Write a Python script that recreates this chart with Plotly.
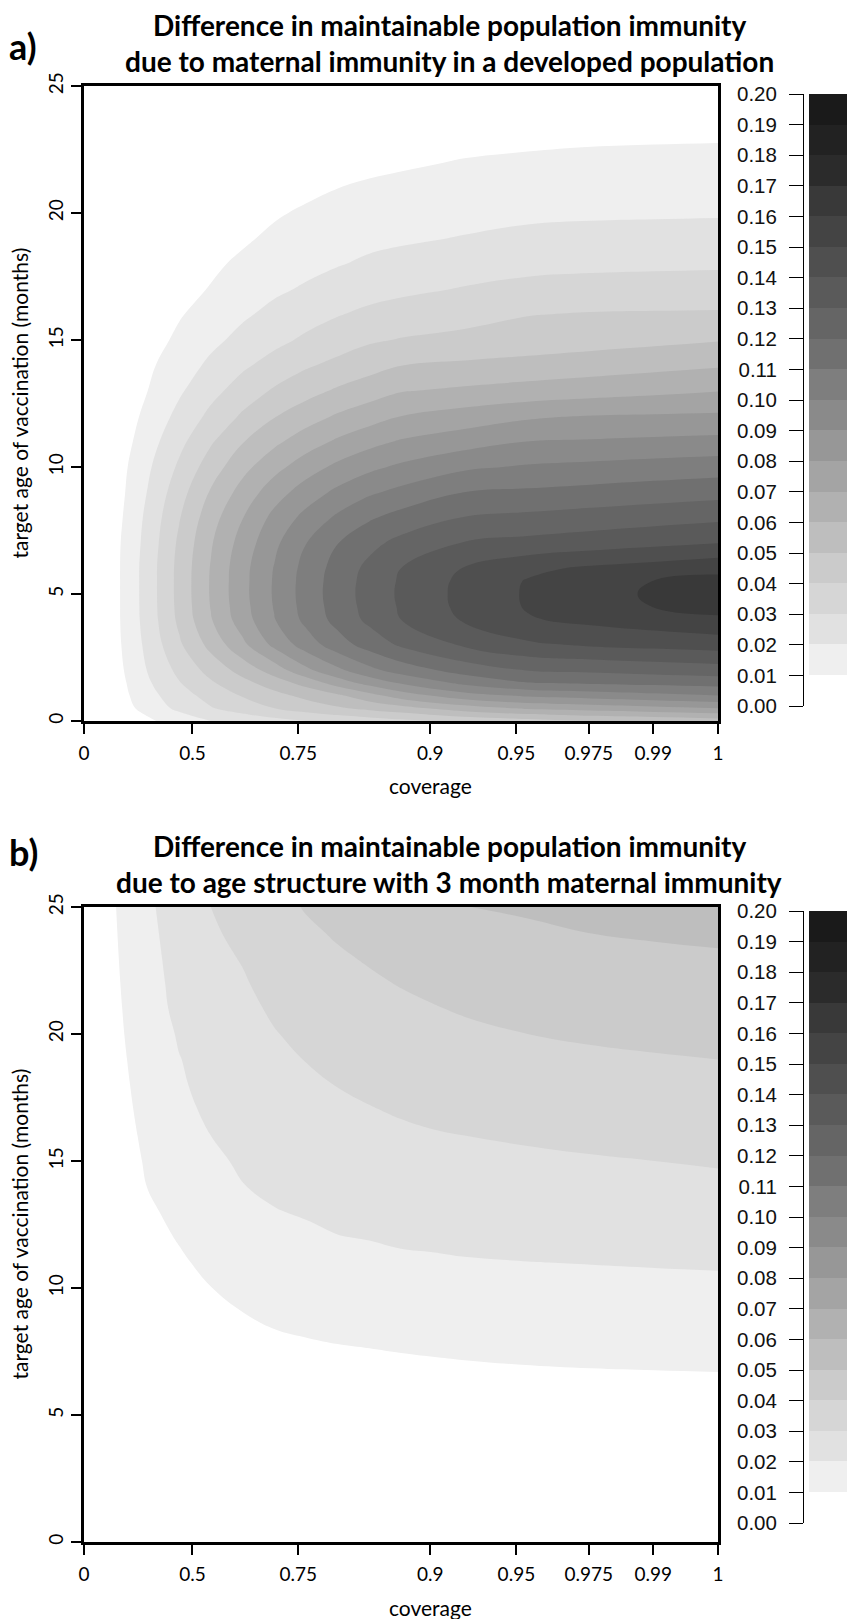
import plotly.graph_objects as go

W, H = 847, 1619

# ---------------- data ----------------
# x tick labels (coverage) and their places on the transformed coverage axis (0..1)
coverage_labels = ["0", "0.5", "0.75", "0.9", "0.95", "0.975", "0.99", "1"]
coverage_pos = [0, 0.171, 0.338, 0.546, 0.682, 0.796, 0.898, 1]
age_ticks = [0, 5, 10, 15, 20, 25]

# ---- panel a: grid columns (transformed coverage axis), rows (target age, months), values
grid_u_a = [0, 0.05, 0.1, 0.15, 0.2, 0.25, 0.3, 0.35, 0.4, 0.45, 0.5, 0.6, 0.7, 0.8, 0.9, 1.0]
age_a = [0, 0.25, 0.5, 1, 1.5, 2, 3, 4, 4.5, 5, 5.5, 6, 7, 8, 9, 10, 11, 12, 13, 14, 15,
         16, 17, 18, 19, 20, 21, 22, 23, 24, 25]
diff_a = [
    [0, 0.0042, 0.0085, 0.0139, 0.0200, 0.0233, 0.0267, 0.0300, 0.0325, 0.0350, 0.0375, 0.0425, 0.0460, 0.0500, 0.0525, 0.0550],
    [0, 0.0045, 0.0105, 0.0180, 0.0248, 0.0290, 0.0333, 0.0372, 0.0406, 0.0438, 0.0469, 0.0538, 0.0588, 0.0622, 0.0647, 0.0672],
    [0, 0.0040, 0.0137, 0.0224, 0.0293, 0.0346, 0.0399, 0.0443, 0.0487, 0.0526, 0.0563, 0.0651, 0.0715, 0.0743, 0.0772, 0.0800],
    [0, 0.0050, 0.0164, 0.0258, 0.0336, 0.0407, 0.0468, 0.0527, 0.0584, 0.0664, 0.0748, 0.0862, 0.0916, 0.0944, 0.0972, 0.1000],
    [0, 0.0056, 0.0185, 0.0294, 0.0387, 0.0469, 0.0548, 0.0636, 0.0745, 0.0836, 0.0910, 0.1024, 0.1096, 0.1113, 0.1127, 0.1141],
    [0, 0.0064, 0.0203, 0.0325, 0.0435, 0.0537, 0.0646, 0.0775, 0.0878, 0.0971, 0.1044, 0.1142, 0.1203, 0.1219, 0.1236, 0.1252],
    [0, 0.0073, 0.0225, 0.0384, 0.0531, 0.0676, 0.0824, 0.0946, 0.1055, 0.1142, 0.1214, 0.1314, 0.1383, 0.1412, 0.1429, 0.1445],
    [0, 0.0077, 0.0239, 0.0421, 0.0593, 0.0752, 0.0895, 0.1026, 0.1134, 0.1223, 0.1300, 0.1412, 0.1492, 0.1526, 0.1556, 0.1585],
    [0, 0.0077, 0.0242, 0.0428, 0.0604, 0.0764, 0.0906, 0.1038, 0.1145, 0.1234, 0.1311, 0.1427, 0.1508, 0.1558, 0.1603, 0.1630],
    [0, 0.0077, 0.0243, 0.0431, 0.0609, 0.0770, 0.0911, 0.1043, 0.1150, 0.1239, 0.1316, 0.1430, 0.1511, 0.1562, 0.1614, 0.1670],
    [0, 0.0077, 0.0243, 0.0431, 0.0609, 0.0769, 0.0910, 0.1041, 0.1147, 0.1236, 0.1312, 0.1426, 0.1507, 0.1557, 0.1603, 0.1629],
    [0, 0.0077, 0.0243, 0.0430, 0.0606, 0.0767, 0.0905, 0.1034, 0.1139, 0.1226, 0.1301, 0.1406, 0.1477, 0.1518, 0.1544, 0.1574],
    [0, 0.0075, 0.0234, 0.0418, 0.0590, 0.0741, 0.0878, 0.0998, 0.1098, 0.1172, 0.1230, 0.1306, 0.1330, 0.1353, 0.1377, 0.1400],
    [0, 0.0065, 0.0223, 0.0393, 0.0559, 0.0697, 0.0829, 0.0930, 0.1018, 0.1088, 0.1136, 0.1205, 0.1224, 0.1243, 0.1262, 0.1280],
    [0, 0.0056, 0.0203, 0.0359, 0.0510, 0.0638, 0.0755, 0.0848, 0.0923, 0.0985, 0.1028, 0.1101, 0.1117, 0.1133, 0.1150, 0.1166],
    [0, 0.0050, 0.0182, 0.0316, 0.0450, 0.0569, 0.0667, 0.0753, 0.0823, 0.0877, 0.0918, 0.0983, 0.1011, 0.1025, 0.1040, 0.1054],
    [0, 0.0035, 0.0155, 0.0272, 0.0388, 0.0494, 0.0578, 0.0651, 0.0716, 0.0768, 0.0810, 0.0857, 0.0901, 0.0910, 0.0920, 0.0929],
    [0, 0.0023, 0.0127, 0.0227, 0.0324, 0.0414, 0.0494, 0.0555, 0.0612, 0.0656, 0.0700, 0.0742, 0.0783, 0.0804, 0.0810, 0.0816],
    [0, 0.0020, 0.0099, 0.0186, 0.0269, 0.0344, 0.0412, 0.0465, 0.0514, 0.0554, 0.0594, 0.0618, 0.0638, 0.0657, 0.0677, 0.0697],
    [0, 0.0018, 0.0082, 0.0151, 0.0220, 0.0284, 0.0337, 0.0388, 0.0427, 0.0463, 0.0499, 0.0518, 0.0536, 0.0554, 0.0572, 0.0590],
    [0, 0.0015, 0.0062, 0.0117, 0.0176, 0.0228, 0.0274, 0.0316, 0.0351, 0.0387, 0.0406, 0.0423, 0.0441, 0.0459, 0.0476, 0.0494],
    [0, 0.0012, 0.0052, 0.0093, 0.0136, 0.0186, 0.0226, 0.0263, 0.0295, 0.0321, 0.0341, 0.0370, 0.0397, 0.0407, 0.0410, 0.0412],
    [0, 0.0010, 0.0045, 0.0077, 0.0104, 0.0150, 0.0184, 0.0211, 0.0242, 0.0265, 0.0280, 0.0306, 0.0328, 0.0338, 0.0343, 0.0346],
    [0, 0.0009, 0.0040, 0.0065, 0.0087, 0.0113, 0.0152, 0.0174, 0.0194, 0.0215, 0.0230, 0.0255, 0.0271, 0.0278, 0.0282, 0.0285],
    [0, 0.0008, 0.0033, 0.0053, 0.0071, 0.0090, 0.0114, 0.0142, 0.0163, 0.0177, 0.0187, 0.0205, 0.0222, 0.0229, 0.0233, 0.0236],
    [0, 0.0007, 0.0028, 0.0044, 0.0059, 0.0075, 0.0092, 0.0110, 0.0131, 0.0143, 0.0154, 0.0170, 0.0182, 0.0187, 0.0189, 0.0191],
    [0, 0.0006, 0.0023, 0.0035, 0.0047, 0.0060, 0.0079, 0.0083, 0.0099, 0.0110, 0.0121, 0.0138, 0.0148, 0.0153, 0.0156, 0.0158],
    [0, 0.0005, 0.0018, 0.0026, 0.0035, 0.0045, 0.0064, 0.0070, 0.0085, 0.0082, 0.0088, 0.0105, 0.0115, 0.0120, 0.0123, 0.0125],
    [0, 0.0004, 0.0014, 0.0020, 0.0027, 0.0035, 0.0049, 0.0058, 0.0070, 0.0068, 0.0072, 0.0072, 0.0079, 0.0087, 0.0090, 0.0092],
    [0, 0.0003, 0.0012, 0.0018, 0.0024, 0.0025, 0.0034, 0.0045, 0.0055, 0.0055, 0.0060, 0.0060, 0.0066, 0.0072, 0.0075, 0.0077],
    [0, 0.0003, 0.0011, 0.0016, 0.0021, 0.0015, 0.0022, 0.0030, 0.0040, 0.0042, 0.0047, 0.0050, 0.0055, 0.0060, 0.0062, 0.0063],
]

# ---- panel b
grid_u_b = [0, 0.05, 0.1, 0.15, 0.2, 0.25, 0.3, 0.35, 0.4, 0.45, 0.5, 0.55, 0.6, 0.7, 0.8, 0.9, 1.0]
age_b = [0, 2, 4, 6, 7, 8, 9, 10, 11, 12, 13, 14, 15, 16, 17, 18, 19, 20, 21, 22, 23, 24, 25]
diff_b = [
    [0, 0, 0, 0, 0, 0, 0, 0, 0, 0, 0, 0, 0, 0, 0, 0, 0],
    [0, 0, 0, 0, 0, 0, 0, 0, 0, 0, 0, 0, 0, 0, 0, 0, 0],
    [0, 0, 0, 0, 0.0005, 0.0005, 0.0008, 0.0011, 0.0012, 0.0015, 0.0015, 0.0019, 0.0022, 0.0028, 0.0030, 0.0032, 0.0032],
    [0, 0, 0.0005, 0.0015, 0.0032, 0.0043, 0.0050, 0.0055, 0.0058, 0.0062, 0.0064, 0.0068, 0.0072, 0.0077, 0.0079, 0.0081, 0.0082],
    [0, 0.0002, 0.0017, 0.0030, 0.0049, 0.0062, 0.0071, 0.0077, 0.0081, 0.0085, 0.0089, 0.0093, 0.0096, 0.0101, 0.0104, 0.0106, 0.0108],
    [0, 0.0008, 0.0029, 0.0045, 0.0066, 0.0081, 0.0092, 0.0099, 0.0105, 0.0109, 0.0114, 0.0117, 0.0121, 0.0126, 0.0128, 0.0131, 0.0133],
    [0, 0.0016, 0.0041, 0.0060, 0.0083, 0.0099, 0.0113, 0.0121, 0.0128, 0.0133, 0.0138, 0.0142, 0.0146, 0.0150, 0.0153, 0.0156, 0.0158],
    [0, 0.0024, 0.0053, 0.0075, 0.0099, 0.0119, 0.0134, 0.0143, 0.0151, 0.0156, 0.0163, 0.0167, 0.0170, 0.0174, 0.0178, 0.0181, 0.0183],
    [0, 0.0032, 0.0065, 0.0090, 0.0117, 0.0138, 0.0155, 0.0165, 0.0174, 0.0180, 0.0188, 0.0191, 0.0195, 0.0199, 0.0202, 0.0205, 0.0208],
    [0, 0.0040, 0.0077, 0.0105, 0.0133, 0.0157, 0.0176, 0.0187, 0.0198, 0.0203, 0.0210, 0.0213, 0.0217, 0.0221, 0.0225, 0.0229, 0.0234],
    [0, 0.0048, 0.0089, 0.0118, 0.0150, 0.0175, 0.0197, 0.0206, 0.0216, 0.0222, 0.0229, 0.0234, 0.0238, 0.0243, 0.0248, 0.0253, 0.0258],
    [0, 0.0055, 0.0101, 0.0132, 0.0167, 0.0198, 0.0212, 0.0222, 0.0233, 0.0240, 0.0249, 0.0254, 0.0258, 0.0265, 0.0271, 0.0277, 0.0283],
    [0, 0.0061, 0.0108, 0.0146, 0.0183, 0.0212, 0.0226, 0.0238, 0.0250, 0.0259, 0.0268, 0.0274, 0.0279, 0.0287, 0.0294, 0.0300, 0.0307],
    [0, 0.0067, 0.0115, 0.0159, 0.0200, 0.0222, 0.0240, 0.0254, 0.0267, 0.0278, 0.0287, 0.0295, 0.0300, 0.0309, 0.0317, 0.0324, 0.0330],
    [0, 0.0072, 0.0122, 0.0184, 0.0211, 0.0233, 0.0254, 0.0270, 0.0284, 0.0296, 0.0307, 0.0315, 0.0321, 0.0332, 0.0341, 0.0347, 0.0353],
    [0, 0.0076, 0.0129, 0.0191, 0.0222, 0.0244, 0.0268, 0.0286, 0.0302, 0.0315, 0.0326, 0.0335, 0.0343, 0.0355, 0.0364, 0.0371, 0.0377],
    [0, 0.0080, 0.0136, 0.0197, 0.0233, 0.0256, 0.0282, 0.0302, 0.0320, 0.0333, 0.0346, 0.0355, 0.0364, 0.0377, 0.0387, 0.0394, 0.0400],
    [0, 0.0084, 0.0143, 0.0209, 0.0244, 0.0268, 0.0296, 0.0319, 0.0337, 0.0352, 0.0364, 0.0376, 0.0385, 0.0400, 0.0410, 0.0417, 0.0423],
    [0, 0.0087, 0.0150, 0.0226, 0.0256, 0.0280, 0.0311, 0.0336, 0.0355, 0.0370, 0.0384, 0.0396, 0.0407, 0.0422, 0.0433, 0.0440, 0.0445],
    [0, 0.0090, 0.0158, 0.0233, 0.0267, 0.0292, 0.0327, 0.0354, 0.0373, 0.0389, 0.0404, 0.0416, 0.0430, 0.0444, 0.0456, 0.0463, 0.0468],
    [0, 0.0093, 0.0165, 0.0241, 0.0278, 0.0305, 0.0344, 0.0371, 0.0391, 0.0407, 0.0423, 0.0437, 0.0453, 0.0467, 0.0478, 0.0486, 0.0491],
    [0, 0.0096, 0.0172, 0.0250, 0.0289, 0.0321, 0.0360, 0.0388, 0.0408, 0.0425, 0.0441, 0.0457, 0.0476, 0.0489, 0.0501, 0.0508, 0.0515],
    [0, 0.0099, 0.0179, 0.0260, 0.0300, 0.0338, 0.0376, 0.0405, 0.0425, 0.0442, 0.0460, 0.0478, 0.0499, 0.0509, 0.0519, 0.0530, 0.0540],
]

# key: band lower edges and tick labels
band_lower = [0.01, 0.02, 0.03, 0.04, 0.05, 0.06, 0.07, 0.08, 0.09, 0.10,
              0.11, 0.12, 0.13, 0.14, 0.15, 0.16, 0.17, 0.18, 0.19]
key_ticks = [0.00, 0.01, 0.02, 0.03, 0.04, 0.05, 0.06, 0.07, 0.08, 0.09, 0.10,
             0.11, 0.12, 0.13, 0.14, 0.15, 0.16, 0.17, 0.18, 0.19, 0.20]
key_labels = ["0.00", "0.01", "0.02", "0.03", "0.04", "0.05", "0.06", "0.07", "0.08", "0.09", "0.10",
              "0.11", "0.12", "0.13", "0.14", "0.15", "0.16", "0.17", "0.18", "0.19", "0.20"]

titles_a = ["Difference in maintainable population immunity",
            "due to maternal immunity in a developed population"]
titles_b = ["Difference in maintainable population immunity",
            "due to age structure with 3 month maternal immunity"]

# ---------------- styles ----------------
band_grays = [239, 225, 214, 203, 190, 177, 164, 151, 138, 126,
              112, 101, 90, 79, 68, 57, 43, 34, 26]
colors = ["#ffffff"] + ["rgb(%d,%d,%d)" % (g, g, g) for g in band_grays]
nb = len(colors) - 1
cscale = [[k / nb, colors[k]] for k in range(nb + 1)]

FONT = "Lato"
KEYFONT = "Liberation Sans, Arial"


def fx(p):
    return p / W


def fy(p):
    return 1 - p / H


fig = go.Figure()

contour_kw = dict(
    autocontour=False,
    contours=dict(start=band_lower[0], end=band_lower[-1], size=0.01,
                  coloring="fill", showlines=False),
    colorscale=cscale, showscale=False, line=dict(width=0, smoothing=1.2),
    hoverinfo="skip",
)
fig.add_trace(go.Contour(x=grid_u_a, y=age_a, z=diff_a, xaxis="x", yaxis="y", **contour_kw))
fig.add_trace(go.Contour(x=grid_u_b, y=age_b, z=diff_b, xaxis="x2", yaxis="y2", **contour_kw))

key_y = [b + 0.005 for b in band_lower]
key_z = [[k + 1] for k in range(len(band_lower))]
for xa, ya in (("x3", "y3"), ("x4", "y4")):
    fig.add_trace(go.Heatmap(x=[0.5], y=key_y, z=key_z, colorscale=cscale,
                             zmin=0, zmax=nb, showscale=False, xaxis=xa, yaxis=ya,
                             hoverinfo="skip"))

main_x = dict(range=[0, 1], tickvals=coverage_pos, ticktext=coverage_labels,
              showline=True, linecolor="black", linewidth=3, mirror=True,
              ticks="outside", ticklen=10, tickwidth=1.5, tickcolor="black",
              ticklabelstandoff=3,
              showgrid=False, zeroline=False,
              tickfont=dict(family=FONT, size=19, color="black"),
              domain=[fx(84), fx(718)])
main_y = dict(range=[0, 25], tickvals=age_ticks, tickangle=-90,
              showline=True, linecolor="black", linewidth=3, mirror=True,
              ticks="outside", ticklen=10, tickwidth=1.5, tickcolor="black",
              showgrid=False, zeroline=False,
              tickfont=dict(family=FONT, size=19, color="black"))
key_x = dict(range=[0, 1], visible=False, domain=[fx(809), 1], fixedrange=True)
key_yax = dict(range=[0, 0.2], tickvals=key_ticks, ticktext=key_labels,
               side="left", anchor="free", position=fx(803),
               showline=True, linecolor="black", linewidth=1,
               ticks="outside", ticklen=14, tickwidth=1, tickcolor="black",
               ticklabelstandoff=8,
               showgrid=False, zeroline=False,
               tickfont=dict(family=KEYFONT, size=20.5, color="#111111"))

fig.update_layout(
    width=W, height=H, margin=dict(l=0, r=0, t=0, b=0, autoexpand=False),
    paper_bgcolor="white", plot_bgcolor="white", showlegend=False,
    xaxis=dict(main_x, anchor="y"),
    yaxis=dict(main_y, anchor="x", domain=[fy(721), fy(86)]),
    xaxis2=dict(main_x, anchor="y2"),
    yaxis2=dict(main_y, anchor="x2", domain=[fy(1542), fy(907)]),
    xaxis3=dict(key_x, anchor="y3"),
    yaxis3=dict(key_yax, domain=[fy(706), fy(94)]),
    xaxis4=dict(key_x, anchor="y4"),
    yaxis4=dict(key_yax, domain=[fy(1523), fy(911)]),
)

ann = []


def add_text(text, x, y, size, bold=False, angle=0, family=FONT):
    ann.append(dict(text=("<b>%s</b>" % text) if bold else text,
                    x=fx(x), y=fy(y), xref="paper", yref="paper",
                    xanchor="center", yanchor="middle", showarrow=False,
                    textangle=angle,
                    font=dict(family=family, size=size, color="black")))


for off, titles, letter, letter_y in ((0, titles_a, "a)", 46), (821, titles_b, "b)", 852)):
    add_text(titles[0], 450, 25 + off, 28, bold=True)
    add_text(titles[1], 449, 61 + off, 28, bold=True)
    add_text(letter, 23, letter_y, 36, bold=True)
    add_text("coverage", 430, 786 + off, 21)
    add_text("target age of vaccination (months)", 19, (86 + 721) / 2 + off, 21, angle=-90)

fig.update_layout(annotations=ann)
fig.write_html("out.html", config={"displayModeBar": False},
               post_script="document.body.style.margin='0';document.body.style.overflow='hidden';")
